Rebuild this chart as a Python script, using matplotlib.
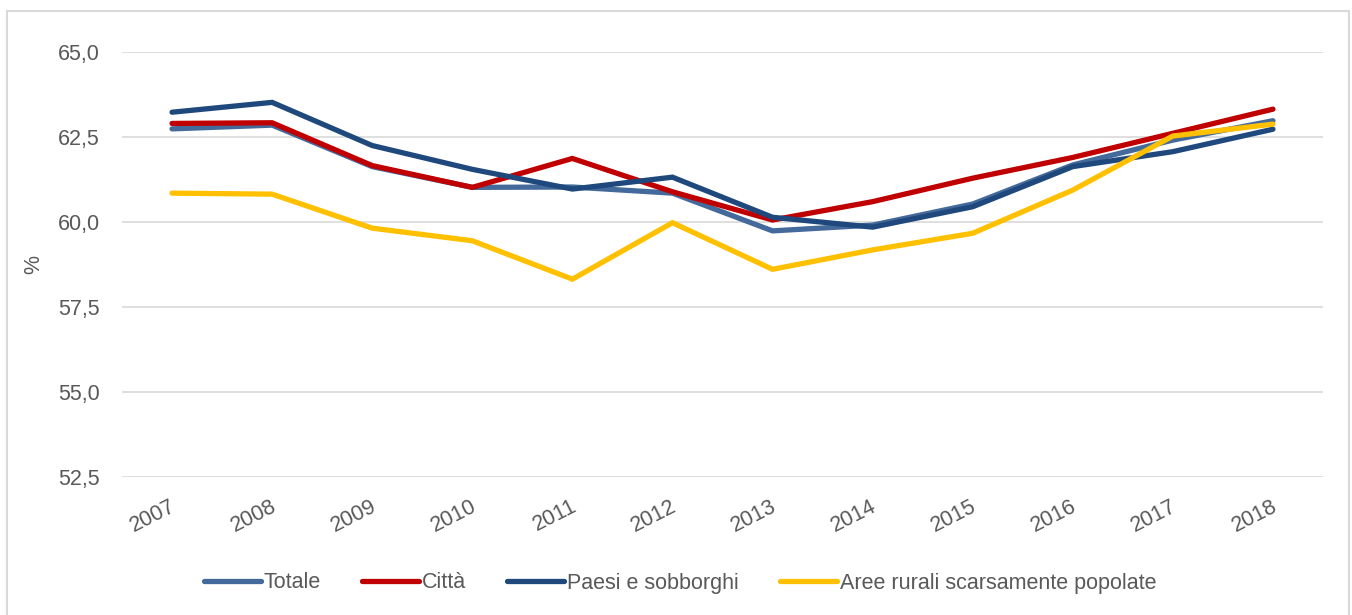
import matplotlib.pyplot as plt
from matplotlib.patches import Rectangle
from matplotlib.transforms import ScaledTranslation
import numpy as np

# anni e serie (%)
anni = [2007, 2008, 2009, 2010, 2011, 2012, 2013, 2014, 2015, 2016, 2017, 2018]
totale = [62.73, 62.84, 61.62, 61.01, 61.02, 60.84, 59.73, 59.90, 60.52, 61.67, 62.40, 62.97]
citta = [62.89, 62.91, 61.65, 61.01, 61.86, 60.88, 60.05, 60.59, 61.28, 61.89, 62.60, 63.31]
paesi = [63.22, 63.51, 62.24, 61.54, 60.96, 61.31, 60.13, 59.84, 60.44, 61.62, 62.06, 62.72]
rurali = [60.84, 60.81, 59.81, 59.44, 58.31, 59.97, 58.60, 59.17, 59.66, 60.93, 62.52, 62.87]

serie = [
    ('Totale', totale, '#44699B'),
    ('Città', citta, '#C00000'),
    ('Paesi e sobborghi', paesi, '#1F497D'),
    ('Aree rurali scarsamente popolate', rurali, '#FFC000'),
]
yticks = [52.5, 55.0, 57.5, 60.0, 62.5, 65.0]

plt.rcParams['font.family'] = ['Liberation Sans', 'DejaVu Sans']
grigio = '#595959'

fig = plt.figure(figsize=(13.52, 6.15), dpi=100)
ax = fig.add_axes([122 / 1352, 1 - 476.7 / 615, (1323 - 122) / 1352, (476.7 - 51.7) / 615])

for nome, vals, col in serie:
    ax.plot(anni, vals, color=col, lw=3.8, label=nome, solid_capstyle='round',
            solid_joinstyle='miter')

ax.set_xlim(2006.5, 2018.5)
ax.set_ylim(52.5, 65.0)
ax.set_yticks(yticks)
ax.set_yticklabels([f'{v:.1f}'.replace('.', ',') for v in yticks])
ax.set_xticks(anni)
ax.set_xticklabels([str(a) for a in anni], rotation=27, ha='right', rotation_mode='anchor')
ax.tick_params(axis='both', length=0, labelsize=15.5, labelcolor=grigio)
ax.tick_params(axis='y', pad=16)
ax.tick_params(axis='x', pad=14)
off = ScaledTranslation(-2 / 100, 0, fig.dpi_scale_trans)
for lab in ax.get_xticklabels():
    lab.set_transform(lab.get_transform() + off)
ax.grid(axis='y', color='#D9D9D9', lw=1.2)
ax.set_axisbelow(True)
for s in ax.spines.values():
    s.set_visible(False)

fig.text(34 / 1352, 1 - 265 / 615, '%', rotation=90, fontsize=15.5, color=grigio,
         ha='center', va='center')

leg = fig.legend(loc='center', bbox_to_anchor=(680 / 1352, 1 - 583 / 615), ncol=4,
                 frameon=False, handlelength=2.65, handletextpad=0.14, columnspacing=1.9,
                 prop={'size': 15.5})
for t in leg.get_texts():
    t.set_color(grigio)

fig.patches.append(Rectangle((7 / 1352, -0.05), (1349 - 7) / 1352, 1 - 11 / 615 + 0.05,
                             transform=fig.transFigure, fill=False, edgecolor='#D9D9D9', lw=1.5))

fig.savefig('out.png', dpi=100)
